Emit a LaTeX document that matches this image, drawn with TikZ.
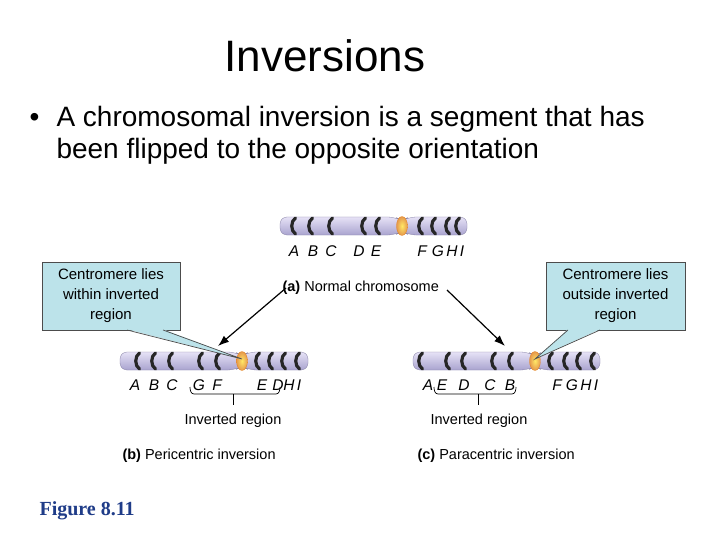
\documentclass[tikz,border=0pt]{standalone}
\usepackage{fontspec}
\usetikzlibrary{arrows.meta}
\setmainfont{Liberation Sans}
\newfontfamily\timesf{Liberation Serif}
\definecolor{callfill}{HTML}{BCE3EA}
\definecolor{chromtop}{HTML}{E6E2F6}
\definecolor{chrombot}{HTML}{A9A3CF}
\definecolor{figblue}{HTML}{1F3C88}
\begin{document}
\begin{tikzpicture}[x=1pt,y=-1pt,
  callout/.style={draw=black!70,fill=callfill,line width=0.7pt},
  lbl/.style={font=\fontsize{15.5}{17}\selectfont\itshape,anchor=base},
  capt/.style={font=\fontsize{14.5}{17}\selectfont,anchor=base west},
  arr/.style={-{Latex[length=11pt,width=8pt]},line width=1.2pt},
  band/.style={line width=3.2pt,draw=black!85,line cap=round}]
\useasboundingbox (0,0) rectangle (720,540);
\def\chrom#1#2#3#4#5{% left x, right x, centromere x, y, band list
  \shade[top color=chromtop,bottom color=chrombot,draw=chrombot!80!black,line width=0.3pt,rounded corners=7pt]
    (#1,#4-9) -- (#3-7,#4-9) -- (#3,#4-5) -- (#3+7,#4-9) -- (#2,#4-9) -- (#2,#4+9) -- (#3+7,#4+9) -- (#3,#4+5) -- (#3-7,#4+9) -- (#1,#4+9) -- cycle;
  \foreach \b in {#5} {\draw[band] (\b+2.5,#4-8) .. controls (\b-2.5,#4-5) and (\b-2.5,#4+5) .. (\b+2.5,#4+8);}
  \shade[inner color=yellow!70!orange!60,outer color=orange!50!brown!80,draw=orange!60!brown,line width=0.3pt] (#3,#4) ellipse (5.5 and 9.5);
}
\node[font=\fontsize{44}{48}\selectfont] (title) at (325,56) {Inversions};
\node[font=\fontsize{28}{32}\selectfont,anchor=base west] (bul) at (26,127) {•};
\node[font=\fontsize{28}{32}\selectfont,anchor=base west] (t1) at (53,127) {A chromosomal inversion is a segment that has};
\node[font=\fontsize{28}{32}\selectfont,anchor=base west] (t2) at (53,159) {been flipped to the opposite orientation};
% chromosomes
\chrom{280}{467}{402}{226}{293,310,330,363,377,420,433,447,457}
\chrom{120}{308}{242}{361}{137,153,170,200,217,257,270,283,297}
\chrom{413}{600}{535}{361}{420,447,463,493,510,550,565,578,592}
\coordinate (ca) at (402,226);
\coordinate (cb) at (242,359);
\coordinate (cc) at (535,359);
% letters
\foreach \x/\t in {294/A,313/B,331/C,359/D,376/E,422/F,438/G,452/H,462/I}
  \node[lbl] at (\x,256) {\t};
\foreach \x/\t in {135/A,154/B,172/C,199/G,217/F,262/E,278/D,289/H,299/I}
  \node[lbl] at (\x,390) {\t};
\foreach \x/\t in {428/A,442/E,464/D,490/C,510/B,557/F,572/G,586/H,596/I}
  \node[lbl] at (\x,390) {\t};
% brackets
\draw[line width=0.7pt] (190,387) to[out=-90,in=180] (194,394) -- (276,394) to[out=0,in=-90] (280,387);
\draw[line width=0.7pt] (233,394) -- (233,405);
\draw[line width=0.7pt] (434,387) to[out=-90,in=180] (438,394) -- (512,394) to[out=0,in=-90] (516,387);
\draw[line width=0.7pt] (478,394) -- (478,405);
\node[capt,anchor=base] (irb) at (233,424) {Inverted region};
\node[capt,anchor=base] (irc) at (479,424) {Inverted region};
\node[capt] (na) at (279,291) {\textbf{(a)} Normal chromosome};
\node[capt] (pb) at (119,459) {\textbf{(b)} Pericentric inversion};
\node[capt] (pc) at (414,459) {\textbf{(c)} Paracentric inversion};
% arrows
\draw[arr] (286,288) -- (218,346);
\draw[arr] (447,290) -- (505,346);
% callouts
\node[callout,minimum width=138,minimum height=68,inner sep=2pt,align=center,font=\fontsize{15}{20}\selectfont] (lc) at (111,296) {Centromere lies\\within inverted\\region};
\fill[callfill] (127,329.3) -- (163,329.3) -- (cb) -- cycle;
\draw[black!70,line width=0.7pt] (127,330) -- (cb) -- (163,330);
\node[callout,minimum width=139,minimum height=68,inner sep=2pt,align=center,font=\fontsize{15}{20}\selectfont] (rc) at (615.5,296) {Centromere lies\\outside inverted\\region};
\fill[callfill] (568,329.3) -- (600,329.3) -- (cc) -- cycle;
\draw[black!70,line width=0.7pt] (568,330) -- (cc) -- (600,330);
\node[font=\timesf\bfseries\fontsize{20}{22}\selectfont,text=figblue,anchor=base west] (fig) at (36,515) {Figure 8.11};
\end{tikzpicture}
\end{document}
